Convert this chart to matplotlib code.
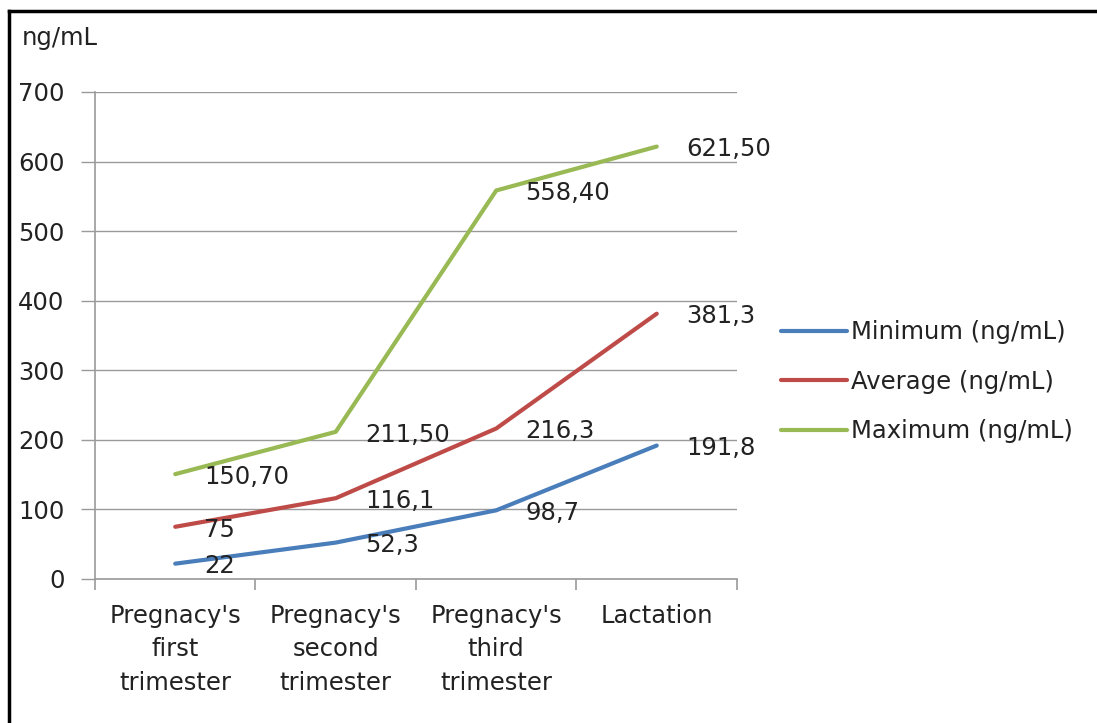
import numpy as np
import matplotlib
matplotlib.use('Agg')
import matplotlib.pyplot as plt
from matplotlib.lines import Line2D

# Prolactin-like levels across pregnancy stages
stages = ["Pregnacy's\nfirst\ntrimester", "Pregnacy's\nsecond\ntrimester",
          "Pregnacy's\nthird\ntrimester", "Lactation"]
minimum = [22, 52.3, 98.7, 191.8]
average = [75, 116.1, 216.3, 381.3]
maximum = [150.7, 211.5, 558.4, 621.5]

min_labels = ["22", "52,3", "98,7", "191,8"]
avg_labels = ["75", "116,1", "216,3", "381,3"]
max_labels = ["150,70", "211,50", "558,40", "621,50"]

series = [
    ("Minimum (ng/mL)", minimum, min_labels, '#4a7ebb'),
    ("Average (ng/mL)", average, avg_labels, '#be4b48'),
    ("Maximum (ng/mL)", maximum, max_labels, '#98b954'),
]

plt.rcParams['font.family'] = ['DejaVu Sans']
fs = 17.5
txt_color = '#222222'
grid_color = '#9a9a9a'

fig = plt.figure(figsize=(10.97, 7.23), dpi=100)
ax = fig.add_axes([0.0866, 0.1992, 0.5852, 0.6736])

x = np.arange(len(stages))
for name, vals, labels, color in series:
    ax.plot(x, vals, color=color, lw=3.0, label=name, solid_capstyle='round')
    for xi, v, lab in zip(x, vals, labels):
        ax.annotate(lab, (xi, v), xytext=(21, -2), textcoords='offset points',
                    ha='left', va='center', fontsize=fs, color=txt_color)

ax.set_xlim(-0.5, 3.5)
ax.set_ylim(0, 700)
ax.set_yticks(np.arange(0, 701, 100))
ax.yaxis.grid(True, color=grid_color, lw=1.0)
ax.set_axisbelow(True)

ax.set_xticks(x)
ax.set_xticklabels(stages, fontsize=fs, color=txt_color, linespacing=1.5)
ax.set_xticks(np.arange(-0.5, 3.6, 1), minor=True)
ax.tick_params(axis='x', which='major', length=0, pad=18)
ax.tick_params(axis='x', which='minor', length=8, color=grid_color, width=1.2)
ax.tick_params(axis='y', length=10, color=grid_color, width=1.0, pad=12,
               labelsize=fs, labelcolor=txt_color)

for side in ['top', 'right']:
    ax.spines[side].set_visible(False)
for side in ['left', 'bottom']:
    ax.spines[side].set_color(grid_color)
    ax.spines[side].set_linewidth(1.2)

fig.text(0.02, 0.947, "ng/mL", fontsize=fs, color=txt_color, va='center', ha='left')

ax.legend(loc='center left', bbox_to_anchor=(1.035, 0.405), frameon=False,
          fontsize=fs, handlelength=2.7, handletextpad=0.15,
          labelspacing=1.05, labelcolor=txt_color)

# frame lines on the top and left edges
fig.add_artist(Line2D([0.008, 1.0], [0.985, 0.985], color='black', lw=2.5,
                      transform=fig.transFigure))
fig.add_artist(Line2D([0.008, 0.008], [0.0, 0.985], color='black', lw=2.5,
                      transform=fig.transFigure))

fig.savefig('out.png', dpi=100)
